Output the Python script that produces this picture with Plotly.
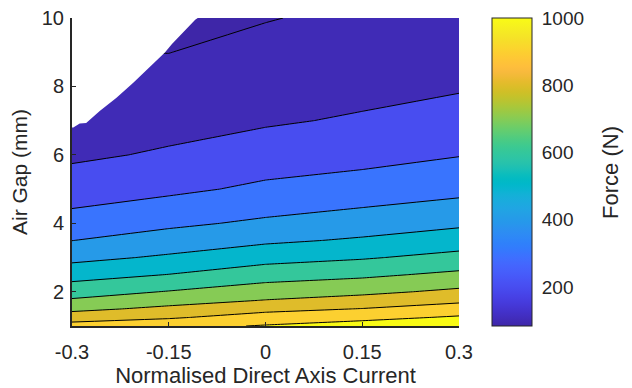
import math
import plotly.graph_objects as go

# ---------------- data ----------------
current = [-0.3, -0.15, 0.0, 0.15, 0.3]          # normalised direct axis current
air_gap = [1.0, 1.25, 1.5, 1.75, 2.0, 2.5, 3.0, 3.5, 4.0, 5.0, 6.0, 7.0, 8.0, 9.0, 10.0]  # mm

# force (N) along air gap for each current column
# (the values at 7-10 mm for -0.3 and 10 mm for -0.15 lie under the blank region)
force_m030 = [940, 853, 776, 711, 658, 560, 473, 399, 338, 250, 183, 150, 122, 102, 84]
force_m015 = [968, 889, 822, 761, 705, 602, 514, 443, 381, 280, 212, 165, 128, 99, 84]
force_000 = [1008, 940, 874, 803, 752, 655, 564, 483, 417, 318, 250, 188, 155, 125, 96]
force_p015 = [1045, 972, 903, 837, 778, 681, 591, 512, 451, 340, 270, 212, 168, 140, 118]
force_p030 = [1084, 1012, 945, 880, 820, 721, 630, 551, 482, 372, 296, 240, 190, 160, 138]

# outline of the blank (no data) region in the upper left
blank_current = [-0.3, -0.298, -0.288, -0.278, -0.257, -0.231, -0.205, -0.169, -0.156, -0.145, -0.128, -0.109, -0.105, -0.3]
blank_gap = [6.80, 6.80, 6.92, 6.93, 7.28, 7.67, 8.11, 8.75, 8.99, 9.24, 9.58, 9.95, 10.0, 10.0]

contour_start, contour_end, contour_step = 100, 1000, 100
cbar_min, cbar_max = 84, 1000
cbar_ticks = [200, 400, 600, 800, 1000]

x_ticks = [-0.3, -0.15, 0, 0.15, 0.3]
x_ticktext = ["-0.3", "-0.15", "0", "0.15", "0.3"]
y_ticks = [2, 4, 6, 8, 10]

# ---------------- styling ----------------
PARULA = [
    (0.2422, 0.1504, 0.6603), (0.2504, 0.1650, 0.7076), (0.2578, 0.1818, 0.7511), (0.2647, 0.1978, 0.7952),
    (0.2706, 0.2147, 0.8364), (0.2751, 0.2342, 0.8710), (0.2783, 0.2559, 0.8991), (0.2803, 0.2782, 0.9221),
    (0.2813, 0.3006, 0.9414), (0.2810, 0.3228, 0.9579), (0.2795, 0.3447, 0.9717), (0.2760, 0.3667, 0.9829),
    (0.2699, 0.3892, 0.9906), (0.2602, 0.4123, 0.9952), (0.2440, 0.4358, 0.9988), (0.2206, 0.4603, 0.9973),
    (0.1963, 0.4847, 0.9892), (0.1834, 0.5074, 0.9798), (0.1786, 0.5289, 0.9682), (0.1764, 0.5499, 0.9520),
    (0.1687, 0.5703, 0.9359), (0.1540, 0.5902, 0.9218), (0.1460, 0.6091, 0.9079), (0.1380, 0.6276, 0.8973),
    (0.1248, 0.6459, 0.8883), (0.1113, 0.6635, 0.8763), (0.0952, 0.6798, 0.8598), (0.0689, 0.6948, 0.8394),
    (0.0297, 0.7082, 0.8163), (0.0036, 0.7203, 0.7917), (0.0067, 0.7312, 0.7660), (0.0433, 0.7411, 0.7394),
    (0.0964, 0.7500, 0.7120), (0.1408, 0.7584, 0.6842), (0.1717, 0.7670, 0.6554), (0.1938, 0.7758, 0.6251),
    (0.2161, 0.7843, 0.5923), (0.2470, 0.7918, 0.5567), (0.2906, 0.7973, 0.5188), (0.3406, 0.8008, 0.4789),
    (0.3909, 0.8029, 0.4354), (0.4456, 0.8024, 0.3909), (0.5044, 0.7993, 0.3480), (0.5616, 0.7942, 0.3045),
    (0.6174, 0.7876, 0.2612), (0.6720, 0.7793, 0.2227), (0.7242, 0.7698, 0.1910), (0.7738, 0.7598, 0.1646),
    (0.8203, 0.7498, 0.1535), (0.8634, 0.7406, 0.1596), (0.9035, 0.7330, 0.1774), (0.9393, 0.7288, 0.2100),
    (0.9728, 0.7298, 0.2394), (0.9956, 0.7434, 0.2371), (0.9970, 0.7659, 0.2199), (0.9952, 0.7893, 0.2028),
    (0.9892, 0.8136, 0.1885), (0.9786, 0.8386, 0.1766), (0.9676, 0.8639, 0.1643), (0.9610, 0.8890, 0.1537),
    (0.9597, 0.9135, 0.1423), (0.9628, 0.9373, 0.1265), (0.9691, 0.9606, 0.1064), (0.9769, 0.9839, 0.0805),
]


def rgb(c):
    return "rgb(%d,%d,%d)" % tuple(round(v * 255) for v in c)


def parula_at(f):
    f = min(max(f, 0.0), 1.0)
    pos = f * (len(PARULA) - 1)
    i = min(int(math.floor(pos)), len(PARULA) - 2)
    t = pos - i
    a, b = PARULA[i], PARULA[i + 1]
    return rgb(tuple(a[k] + (b[k] - a[k]) * t for k in range(3)))


continuous_scale = [[i / (len(PARULA) - 1), rgb(c)] for i, c in enumerate(PARULA)]

# MATLAB colours each band with the colour of its lower level; plotly samples
# the band mid-point, so build a scale that puts MATLAB's colours there.
n_levels = int(round((contour_end - contour_start) / contour_step)) + 1
band_scale = []
for k in range(n_levels + 1):
    lower = contour_start + (k - 1) * contour_step if k > 0 else cbar_min
    band_scale.append([k / n_levels, parula_at((lower - cbar_min) / (cbar_max - cbar_min))])

z = [list(row) for row in zip(force_m030, force_m015, force_000, force_p015, force_p030)]

FONT = "Liberation Sans, Arial, Helvetica, sans-serif"
TXT = "#262626"

fig = go.Figure()
fig.add_trace(go.Contour(
    x=current, y=air_gap, z=z,
    autocontour=False,
    contours=dict(start=contour_start, end=contour_end, size=contour_step, coloring="fill", showlines=True),
    line=dict(color="black", width=1, smoothing=0),
    colorscale=band_scale,
    showscale=False,
    hoverinfo="skip",
))
fig.add_trace(go.Scatter(
    x=blank_current, y=blank_gap, mode="lines", fill="toself",
    fillcolor="white", line=dict(color="white", width=0),
    hoverinfo="skip", showlegend=False,
))
fig.add_trace(go.Scatter(
    x=[current[2]], y=[air_gap[0]], mode="markers",
    marker=dict(size=1, opacity=0, color=[cbar_min], colorscale=continuous_scale,
                cmin=cbar_min, cmax=cbar_max, showscale=True,
                colorbar=dict(thickness=40, thicknessmode="pixels", len=1, lenmode="fraction",
                              x=1.085, xanchor="left", xpad=0, y=0.5, yanchor="middle", ypad=0,
                              outlinewidth=1, outlinecolor=TXT,
                              tickvals=cbar_ticks, ticks="outside", ticklen=6,
                              tickcolor="rgba(255,255,255,0)",
                              tickfont=dict(family=FONT, size=19, color=TXT))),
    hoverinfo="skip", showlegend=False,
))

fig.update_layout(
    width=632, height=388, autosize=False,
    margin=dict(l=72, r=173, t=18, b=62, autoexpand=False),
    paper_bgcolor="white", plot_bgcolor="white",
    font=dict(family=FONT, color=TXT),
    xaxis=dict(range=[-0.3, 0.3], tickvals=x_ticks, ticktext=x_ticktext, automargin=False,
               showline=True, linecolor=TXT, linewidth=2, ticks="inside", ticklen=4,
               tickcolor=TXT, showgrid=False, zeroline=False,
               tickfont=dict(size=20), ticklabelstandoff=7,
               title=dict(text="Normalised Direct Axis Current", font=dict(size=22), standoff=10)),
    yaxis=dict(range=[1, 10], tickvals=y_ticks, automargin=False,
               showline=True, linecolor=TXT, linewidth=2, ticks="inside", ticklen=4,
               tickcolor=TXT, showgrid=False, zeroline=False,
               tickfont=dict(size=20), ticklabelstandoff=2,
               title=dict(text="Air Gap (mm)", font=dict(size=21), standoff=8)),
    annotations=[dict(text="Force (N)", xref="paper", yref="paper", x=1.39, y=0.5,
                      xanchor="center", yanchor="middle", textangle=-90, showarrow=False,
                      font=dict(size=22, color=TXT))],
)

fig.write_html("out.html")
